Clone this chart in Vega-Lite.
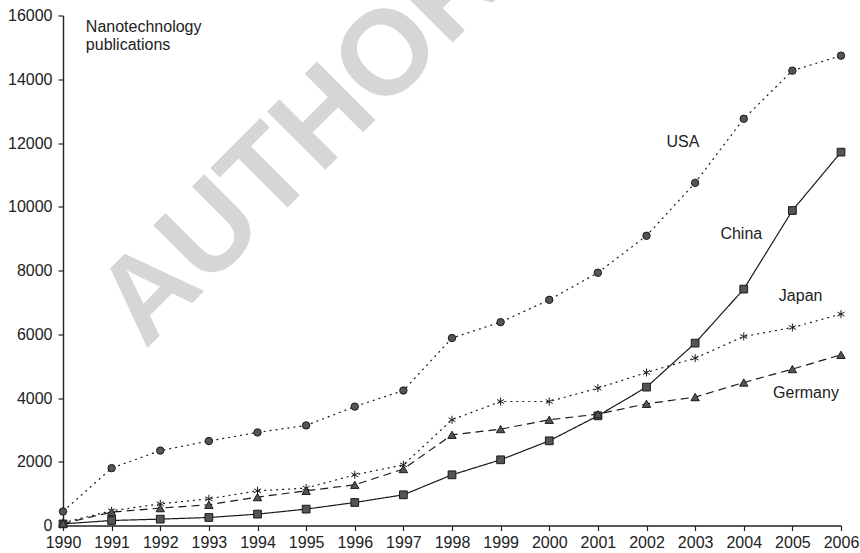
{
  "$schema": "https://vega.github.io/schema/vega-lite/v6.json",
  "width": 778,
  "height": 510,
  "autosize": {"type": "none"},
  "padding": {"left": 63, "top": 15.5, "right": 19, "bottom": 27.5},
  "background": "white",
  "config": {
    "view": {"stroke": null},
    "font": "Liberation Sans",
    "axis": {
      "grid": false,
      "domainColor": "#222",
      "domainWidth": 1.4,
      "tickColor": "#222",
      "tickWidth": 1.2,
      "tickSize": 5,
      "labelFont": "Liberation Sans",
      "labelFontSize": 16,
      "labelColor": "#222",
      "title": null
    }
  },
  "datasets": {
    "pubs": [
      {"year": 1990, "country": "USA", "value": 440},
      {"year": 1991, "country": "USA", "value": 1800},
      {"year": 1992, "country": "USA", "value": 2350},
      {"year": 1993, "country": "USA", "value": 2650},
      {"year": 1994, "country": "USA", "value": 2920},
      {"year": 1995, "country": "USA", "value": 3140},
      {"year": 1996, "country": "USA", "value": 3730},
      {"year": 1997, "country": "USA", "value": 4235},
      {"year": 1998, "country": "USA", "value": 5880},
      {"year": 1999, "country": "USA", "value": 6380},
      {"year": 2000, "country": "USA", "value": 7080},
      {"year": 2001, "country": "USA", "value": 7930},
      {"year": 2002, "country": "USA", "value": 9090},
      {"year": 2003, "country": "USA", "value": 10750},
      {"year": 2004, "country": "USA", "value": 12760},
      {"year": 2005, "country": "USA", "value": 14270},
      {"year": 2006, "country": "USA", "value": 14740},
      {"year": 1990, "country": "China", "value": 50},
      {"year": 1991, "country": "China", "value": 157},
      {"year": 1992, "country": "China", "value": 200},
      {"year": 1993, "country": "China", "value": 251},
      {"year": 1994, "country": "China", "value": 357},
      {"year": 1995, "country": "China", "value": 514},
      {"year": 1996, "country": "China", "value": 722},
      {"year": 1997, "country": "China", "value": 963},
      {"year": 1998, "country": "China", "value": 1590},
      {"year": 1999, "country": "China", "value": 2061},
      {"year": 2000, "country": "China", "value": 2657},
      {"year": 2001, "country": "China", "value": 3441},
      {"year": 2002, "country": "China", "value": 4341},
      {"year": 2003, "country": "China", "value": 5722},
      {"year": 2004, "country": "China", "value": 7416},
      {"year": 2005, "country": "China", "value": 9882},
      {"year": 2006, "country": "China", "value": 11714},
      {"year": 1990, "country": "Japan", "value": 90},
      {"year": 1991, "country": "Japan", "value": 461},
      {"year": 1992, "country": "Japan", "value": 680},
      {"year": 1993, "country": "Japan", "value": 837},
      {"year": 1994, "country": "Japan", "value": 1088},
      {"year": 1995, "country": "Japan", "value": 1173},
      {"year": 1996, "country": "Japan", "value": 1590},
      {"year": 1997, "country": "Japan", "value": 1904},
      {"year": 1998, "country": "Japan", "value": 3316},
      {"year": 1999, "country": "Japan", "value": 3890},
      {"year": 2000, "country": "Japan", "value": 3890},
      {"year": 2001, "country": "Japan", "value": 4310},
      {"year": 2002, "country": "Japan", "value": 4800},
      {"year": 2003, "country": "Japan", "value": 5251},
      {"year": 2004, "country": "Japan", "value": 5929},
      {"year": 2005, "country": "Japan", "value": 6212},
      {"year": 2006, "country": "Japan", "value": 6632},
      {"year": 1990, "country": "Germany", "value": 60},
      {"year": 1991, "country": "Germany", "value": 420},
      {"year": 1992, "country": "Germany", "value": 545},
      {"year": 1993, "country": "Germany", "value": 650},
      {"year": 1994, "country": "Germany", "value": 890},
      {"year": 1995, "country": "Germany", "value": 1088},
      {"year": 1996, "country": "Germany", "value": 1277},
      {"year": 1997, "country": "Germany", "value": 1770},
      {"year": 1998, "country": "Germany", "value": 2845},
      {"year": 1999, "country": "Germany", "value": 3024},
      {"year": 2000, "country": "Germany", "value": 3316},
      {"year": 2001, "country": "Germany", "value": 3494},
      {"year": 2002, "country": "Germany", "value": 3818},
      {"year": 2003, "country": "Germany", "value": 4028},
      {"year": 2004, "country": "Germany", "value": 4486},
      {"year": 2005, "country": "Germany", "value": 4906},
      {"year": 2006, "country": "Germany", "value": 5355}
    ],
    "labels": [
      {"label": "USA", "year": 2002.75, "value": 11889},
      {"label": "China", "year": 2003.95, "value": 8985},
      {"label": "Japan", "year": 2005.17, "value": 7058},
      {"label": "Germany", "year": 2005.28, "value": 3997}
    ],
    "title": [
      {"label": "Nanotechnology\npublications", "year": 1990.47, "value": 15497}
    ],
    "watermark": [
      {"label": "AUTHOR", "year": 1994.9, "value": 12000}
    ]
  },
  "layer": [
    {
      "data": {"name": "watermark"},
      "mark": {"type": "text", "font": "Liberation Sans", "fontWeight": "bold", "fontSize": 120, "color": "#d6d6d6", "angle": -45, "align": "center", "baseline": "middle"},
      "encoding": {
        "x": {"field": "year", "type": "quantitative", "scale": {"domain": [1990, 2006]}},
        "y": {"field": "value", "type": "quantitative", "scale": {"domain": [0, 16000]}},
        "text": {"field": "label"}
      }
    },
    {
      "data": {"name": "pubs"},
      "mark": {"type": "line", "color": "#1a1a1a", "strokeWidth": 1.2},
      "encoding": {
        "x": {"field": "year", "type": "quantitative", "scale": {"domain": [1990, 2006], "nice": false, "zero": false},
          "axis": {"values": [1990,1991,1992,1993,1994,1995,1996,1997,1998,1999,2000,2001,2002,2003,2004,2005,2006], "format": "d", "labelPadding": 4, "labelOverlap": false, "labelFlush": false}},
        "y": {"field": "value", "type": "quantitative", "scale": {"domain": [0, 16000], "nice": false},
          "axis": {"values": [0,2000,4000,6000,8000,10000,12000,14000,16000], "format": "d", "labelPadding": 6}},
        "detail": {"field": "country"},
        "strokeDash": {"field": "country", "type": "nominal", "scale": {"domain": ["USA", "China", "Japan", "Germany"], "range": [[2,4],[1,0],[2,4],[8,5]]}, "legend": null}
      }
    },
    {
      "data": {"name": "pubs"},
      "mark": {"type": "point", "filled": true, "fill": "#555", "stroke": "#1a1a1a", "opacity": 1},
      "encoding": {
        "x": {"field": "year", "type": "quantitative"},
        "y": {"field": "value", "type": "quantitative"},
        "shape": {"field": "country", "type": "nominal", "scale": {"domain": ["USA", "China", "Japan", "Germany"], "range": ["circle", "square", "M0,-1L0,1M-0.87,-0.5L0.87,0.5M-0.87,0.5L0.87,-0.5", "triangle-up"]}, "legend": null},
        "size": {"field": "country", "type": "nominal", "scale": {"domain": ["USA", "China", "Japan", "Germany"], "range": [55, 70, 70, 55]}, "legend": null},
        "strokeWidth": {"field": "country", "type": "nominal", "scale": {"domain": ["USA", "China", "Japan", "Germany"], "range": [1, 1, 1.6, 1]}, "legend": null}
      }
    },
    {
      "data": {"name": "labels"},
      "mark": {"type": "text", "font": "Liberation Sans", "fontSize": 16, "color": "#222", "align": "center", "baseline": "alphabetic"},
      "encoding": {
        "x": {"field": "year", "type": "quantitative"},
        "y": {"field": "value", "type": "quantitative"},
        "text": {"field": "label"}
      }
    },
    {
      "data": {"name": "title"},
      "mark": {"type": "text", "font": "Liberation Sans", "fontSize": 16, "color": "#222", "align": "left", "baseline": "alphabetic", "lineBreak": "\n", "lineHeight": 18.5},
      "encoding": {
        "x": {"field": "year", "type": "quantitative"},
        "y": {"field": "value", "type": "quantitative"},
        "text": {"field": "label"}
      }
    }
  ]
}
